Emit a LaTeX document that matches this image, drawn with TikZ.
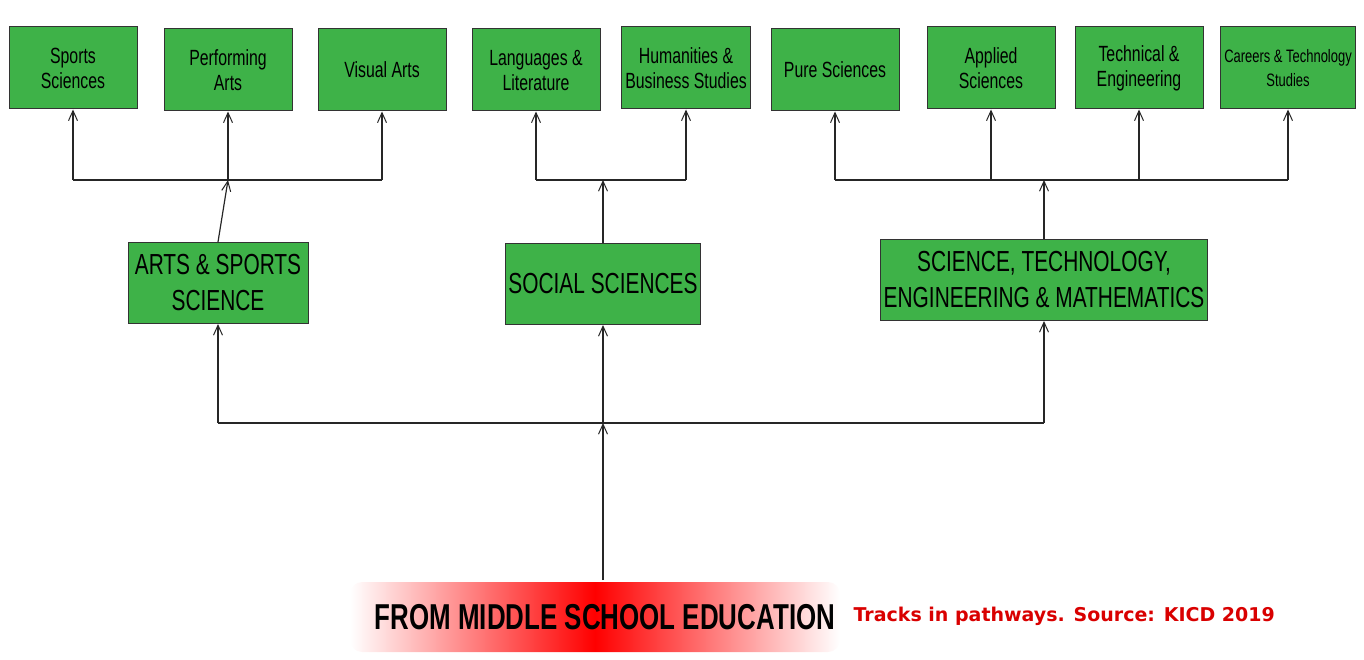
\documentclass[tikz,border=0pt]{standalone}
\usepackage{fontspec}
\setmainfont{Liberation Sans}[FakeStretch=0.72]
\newfontfamily\capfont{DejaVu Sans}
\usetikzlibrary{arrows.meta}
\definecolor{trackgreen}{RGB}{62,178,72}
\tikzset{
  track/.style={draw=black!80,line width=1pt,fill=trackgreen,minimum width=128pt,minimum height=82pt,
    align=center,font=\fontsize{22}{25}\selectfont},
  pathway/.style={track,minimum width=180pt,minimum height=81pt,font=\fontsize{29}{36}\selectfont},
  link/.style={line width=1.2pt,black!85},
  up/.style={link,-{Straight Barb[length=10pt,width=9pt,line width=1pt]}}
}
\begin{document}
\begin{tikzpicture}[x=1pt,y=-1pt]
  \useasboundingbox (0,0) rectangle (1364,660);
  % top tracks
  \node[track] (sports) at (73,68) {Sports\\Sciences};
  \node[track] (perform) at (228,70) {Performing\\Arts};
  \node[track] (visual) at (382,70) {Visual Arts};
  \node[track] (lang) at (536,70) {Languages \&\\Literature};
  \node[track] (human) at (686,68) {Humanities \&\\Business Studies};
  \node[track] (pure) at (835,70) {Pure Sciences};
  \node[track] (applied) at (991,68) {Applied\\Sciences};
  \node[track] (tech) at (1139,68) {Technical \&\\Engineering};
  \node[track,font=\fontsize{18}{24}\selectfont] (careers) at (1288,68) {Careers \& Technology\\Studies};
  % pathways
  \node[pathway] (arts) at (218,283) {ARTS \& SPORTS\\SCIENCE};
  \node[pathway] (social) at (603,284) {SOCIAL SCIENCES};
  \node[pathway,minimum width=293pt] (stem) at (1044,280) {SCIENCE, TECHNOLOGY,\\ENGINEERING \& MATHEMATICS};
  % bottom
  \shade[rounded corners=12pt,left color=white,right color=white,middle color=red]
    (350,582) rectangle (840,652);
  \node[font=\fontsize{36}{40}\selectfont\bfseries] (middle) at (605,617) {FROM MIDDLE SCHOOL EDUCATION};
  \coordinate (mtop) at (603,580);
  \node[font=\capfont\bfseries\fontsize{19}{22}\selectfont,text=red!85!black,anchor=west] (caption) at (850,616) {Tracks in pathways. Source: KICD 2019};
  % bars
  \coordinate (bar1) at (0,180);
  \coordinate (bar2) at (0,423);
  \draw[link] (sports.south |- bar1) -- (visual.south |- bar1);
  \draw[link] (lang.south |- bar1) -- (human.south |- bar1);
  \draw[link] (pure.south |- bar1) -- (careers.south |- bar1);
  \draw[link] (arts.south |- bar2) -- (stem.south |- bar2);
  \foreach \t in {sports,perform,visual,lang,human,pure,applied,tech,careers}
    \draw[up] (\t.south |- bar1) -- (\t.south);
  \draw[up] (arts.north) -- (perform.south |- bar1);
  \draw[up] (social.north) -- (social.north |- bar1);
  \draw[up] (stem.north) -- (stem.north |- bar1);
  \foreach \p in {arts,social,stem}
    \draw[up] (\p.south |- bar2) -- (\p.south);
  \draw[up] (mtop) -- (mtop |- bar2);
\end{tikzpicture}
\end{document}
